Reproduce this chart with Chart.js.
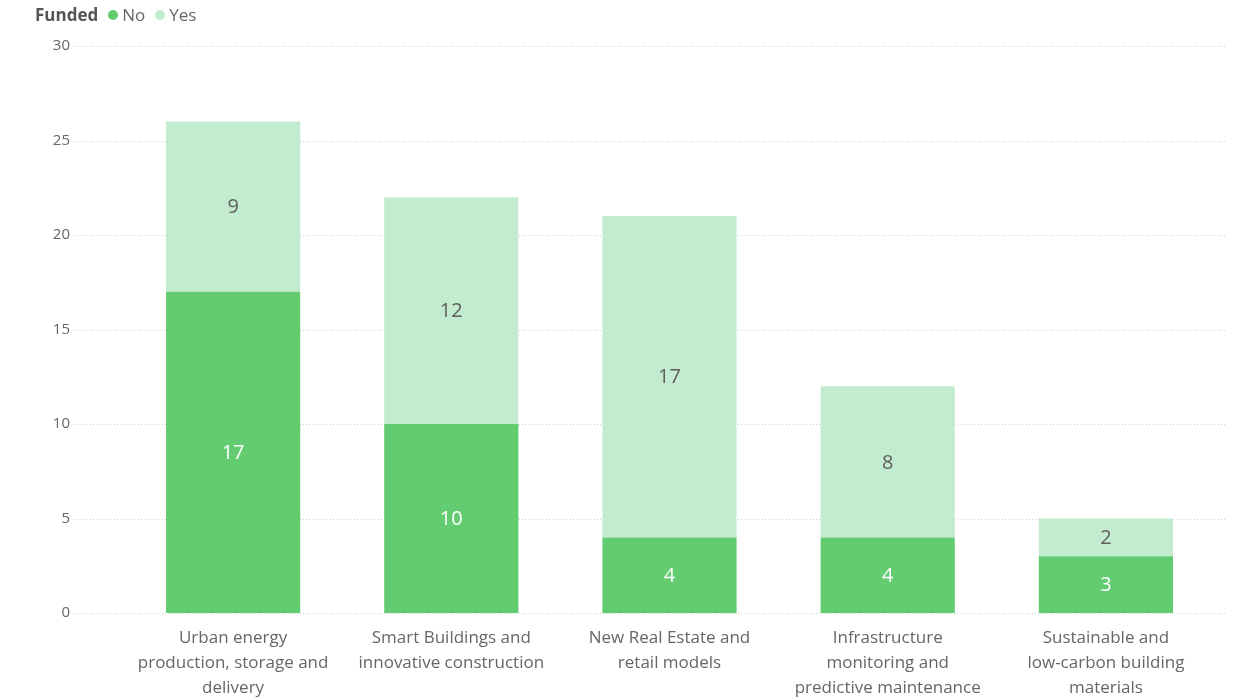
<!DOCTYPE html>
<html>
<head>
<meta charset="utf-8">
<script src="https://cdn.jsdelivr.net/npm/chart.js@4/dist/chart.umd.min.js"></script>
<style>
  html, body { margin: 0; padding: 0; background: #fff; }
  #wrap { position: relative; width: 1242px; height: 697px; }
  #legend { position: absolute; left: 35px; top: 3px; font-family: "Open Sans", sans-serif; font-size: 17px; color: #666; display: flex; align-items: center; }
  #legend b { color: #555; margin-right: 10px; }
  #legend .dot { width: 10px; height: 10px; border-radius: 50%; display: inline-block; margin-right: 4px; }
  #legend span.item { display: inline-flex; align-items: center; margin-right: 10px; }
</style>
</head>
<body>
<div id="wrap">
  <div id="legend"></div>
  <canvas id="myChart" width="1242" height="697"></canvas>
</div>
<script>
const categories = [
  ["Urban energy", "production, storage and", "delivery"],
  ["Smart Buildings and", "innovative construction"],
  ["New Real Estate and", "retail models"],
  ["Infrastructure", "monitoring and", "predictive maintenance"],
  ["Sustainable and", "low-carbon building", "materials"]
]
const fundedNo = [17, 10, 4, 4, 3]
const fundedYes = [9, 12, 17, 8, 2]
const yTicks = [0, 5, 10, 15, 20, 25, 30]

const colorNo = "#63cc70"
const colorYes = "#c3ebd0"
const font = "'Open Sans', sans-serif"

// legend: "Funded  ● No  ● Yes"
let legendHtml = "<b>Funded</b>"
;[["No", colorNo], ["Yes", colorYes]].forEach(([name, c]) => {
  legendHtml += `<span class="item"><span class="dot" style="background:${c}"></span>${name}</span>`
})
legend.innerHTML = legendHtml

// dotted gridlines across the full width
const dottedGrid = {
  id: "dottedGrid",
  beforeDatasetsDraw(chart) {
    const y = chart.scales.y
    const ctx = chart.ctx
    ctx.save()
    ctx.strokeStyle = "#d0d0d0"
    ctx.lineWidth = 1
    ctx.setLineDash([1, 2])
    y.ticks.forEach(t => {
      const py = Math.round(y.getPixelForValue(t.value)) + 0.5
      ctx.beginPath()
      ctx.moveTo(75, py)
      ctx.lineTo(1225, py)
      ctx.stroke()
    })
    ctx.restore()
  }
}

// value labels centred in each segment
const segmentLabels = {
  id: "segmentLabels",
  afterDatasetsDraw(chart) {
    const ctx = chart.ctx
    ctx.save()
    ctx.font = `20px ${font}`
    ctx.textAlign = "center"
    ctx.textBaseline = "middle"
    chart.data.datasets.forEach((ds, i) => {
      const meta = chart.getDatasetMeta(i)
      ctx.fillStyle = i === 0 ? "#ffffff" : "#605e5c"
      meta.data.forEach((bar, j) => {
        const p = bar.getProps(["x", "y", "base"], true)
        ctx.fillText(ds.data[j], p.x, (p.y + p.base) / 2 + 1)
      })
    })
    ctx.restore()
  }
}

new Chart(document.getElementById("myChart"), {
  type: "bar",
  data: {
    labels: categories,
    datasets: [
      { label: "No", data: fundedNo, backgroundColor: colorNo, categoryPercentage: 1, barPercentage: 0.615 },
      { label: "Yes", data: fundedYes, backgroundColor: colorYes, categoryPercentage: 1, barPercentage: 0.615 }
    ]
  },
  options: {
    responsive: false,
    animation: false,
    layout: { padding: { left: 0, right: 27, top: 46, bottom: 0 } },
    plugins: { legend: { display: false }, tooltip: { enabled: false } },
    scales: {
      x: {
        stacked: true,
        grid: { display: false, drawTicks: false },
        border: { display: false },
        ticks: { color: "#666", padding: 13, maxRotation: 0, autoSkip: false, font: { family: font, size: 17, lineHeight: 1.47 } },
        afterFit: s => { s.height = 84 }
      },
      y: {
        stacked: true,
        min: 0,
        max: 30,
        afterBuildTicks: s => { s.ticks = yTicks.map(v => ({ value: v })) },
        grid: { display: false, drawTicks: false },
        border: { display: false },
        ticks: { color: "#666", padding: 54, font: { family: font, size: 15 } },
        // the wide tick padding would otherwise push the plot down
        afterFit: s => { s.width = 124; s.paddingTop = 0; s.paddingBottom = 0 }
      }
    }
  },
  plugins: [dottedGrid, segmentLabels]
})
</script>
</body>
</html>
